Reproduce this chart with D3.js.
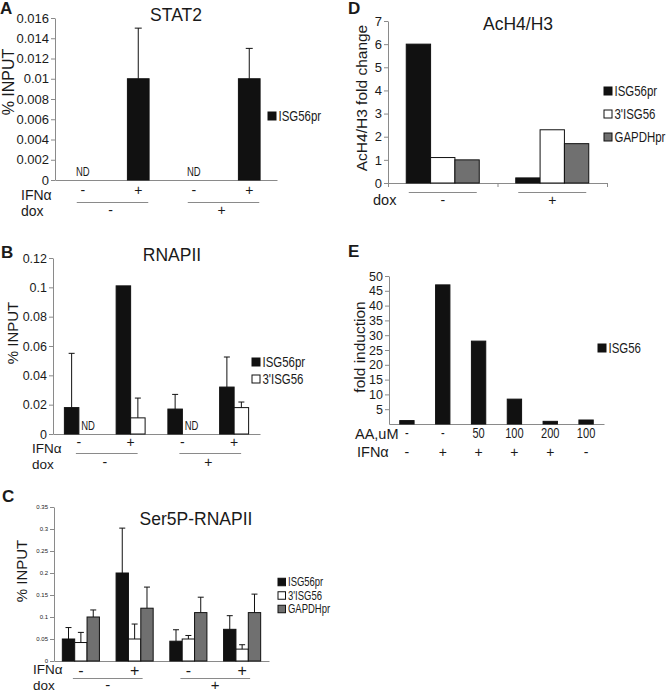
<!DOCTYPE html>
<html><head><meta charset="utf-8">
<script src="https://cdn.jsdelivr.net/npm/d3@7"></script>
<style>
body{margin:0;background:#fff;}
svg text{font-family:"Liberation Sans",Arial,sans-serif;fill:#1a1a1a;}
</style></head><body>
<script>
// ---------------- DATA ----------------
// Panel A: STAT2
const aIFN = ["-", "+", "-", "+"];
const aDox = ["-", "+"];
const aSeriesNames = ["ISG56pr"];
const aISG56pr = [null, 0.010, null, 0.010];
const aISG56prErr = [null, 0.015, null, 0.013];
const aTicks = [0, 0.002, 0.004, 0.006, 0.008, 0.01, 0.012, 0.014, 0.016];
const aTickLabels = ["0", "0.002", "0.004", "0.006", "0.008", "0.01", "0.012", "0.014", "0.016"];

// Panel B: RNAPII
const bIFN = ["-", "+", "-", "+"];
const bDox = ["-", "+"];
const bSeriesNames = ["ISG56pr", "3'ISG56"];
const bISG56pr = [0.018, 0.101, 0.017, 0.032];
const bISG56prErr = [0.055, null, 0.027, 0.0525];
const b3ISG56 = [null, 0.011, null, 0.018];
const b3ISG56Err = [null, 0.0245, null, 0.0218];
const bTicks = [0, 0.02, 0.04, 0.06, 0.08, 0.1, 0.12];
const bTickLabels = ["0", "0.02", "0.04", "0.06", "0.08", "0.1", "0.12"];

// Panel C: Ser5P-RNAPII
const cIFN = ["-", "+", "-", "+"];
const cDox = ["-", "+"];
const cSeriesNames = ["ISG56pr", "3'ISG56", "GAPDHpr"];
const cISG56pr = [0.05, 0.2, 0.045, 0.072];
const cISG56prErr = [0.076, 0.302, 0.071, 0.103];
const c3ISG56 = [0.042, 0.05, 0.05, 0.027];
const c3ISG56Err = [0.065, 0.084, 0.058, 0.037];
const cGAPDHpr = [0.1, 0.12, 0.11, 0.11];
const cGAPDHprErr = [0.116, 0.168, 0.145, 0.152];
const cTicks = [0, 0.05, 0.1, 0.15, 0.2, 0.25, 0.3, 0.35];
const cTickLabels = ["0", "0.05", "0.1", "0.15", "0.2", "0.25", "0.3", "0.35"];

// Panel D: AcH4/H3
const dDox = ["-", "+"];
const dSeriesNames = ["ISG56pr", "3'ISG56", "GAPDHpr"];
const dISG56pr = [6.0, 0.22];
const d3ISG56 = [1.1, 2.3];
const dGAPDHpr = [1.0, 1.7];
const dTicks = [0, 1, 2, 3, 4, 5, 6, 7];
const dTickLabels = ["0", "1", "2", "3", "4", "5", "6", "7"];

// Panel E: fold induction
const eAA = ["-", "-", "50", "100", "200", "100"];
const eIFN = ["-", "+", "+", "+", "+", "-"];
const eSeriesNames = ["ISG56"];
const eISG56 = [1.15, 47, 28, 8.4, 0.9, 1.35];
const eTicks = [5, 10, 15, 20, 25, 30, 35, 40, 45, 50];
const eTickLabels = ["5", "10", "15", "20", "25", "30", "35", "40", "45", "50"];

// ---------------- DRAWING ----------------
const COLORS = {"ISG56pr": "#111111", "ISG56": "#111111", "3'ISG56": "#ffffff", "GAPDHpr": "#707070"};
const AXIS = "#8a8a8a";
const NARROW = 0.79;
const svg = d3.select("body").append("svg").attr("width", 666).attr("height", 693);

function letter(t, x, y) {
  svg.append("text").text(t).attr("x", x).attr("y", y)
    .attr("font-size", 17).attr("font-weight", "bold");
}

// condensed text (Arial-Narrow-like) by horizontal scaling
function narrowText(g, str, x, y, size, anchor, baseline) {
  return g.append("text").text(str)
    .attr("transform", `translate(${x},${y}) scale(${NARROW},1)`)
    .attr("text-anchor", anchor || "start")
    .attr("dominant-baseline", baseline || "central")
    .attr("font-size", size);
}

function drawPanel(p) {
  const g = svg.append("g");
  const y = d3.scaleLinear().domain([0, p.yMax]).range([p.y0, p.yTop]);
  const x = d3.scaleBand().domain(d3.range(p.nCat)).range([p.xl, p.xr]);
  const xs = d3.scaleBand().domain(p.series.map(s => s.name)).range([0, x.bandwidth()])
    .paddingInner(0).paddingOuter(p.pad);

  // y axis
  const ya = d3.axisLeft(y).tickValues(p.ticks).tickFormat((d, i) => p.tickLabels[i])
    .tickSize(4).tickSizeOuter(0).tickPadding(p.tickPad || 2);
  const yg = g.append("g").attr("transform", `translate(${p.xl},0)`).call(ya);
  yg.selectAll("path,line").attr("stroke", AXIS);
  if (p.ticks[0] !== 0) {
    yg.append("line").attr("x1", 0.5).attr("x2", 0.5).attr("y1", y(0)).attr("y2", y(p.ticks[0])).attr("stroke", AXIS);
  }
  yg.selectAll("text").attr("font-size", p.tickFont).attr("fill", "#1a1a1a")
    .attr("font-family", "Liberation Sans, Arial, sans-serif");

  // x axis
  const xa = d3.axisBottom(x).tickValues([]).tickSizeOuter(0);
  const xg = g.append("g").attr("transform", `translate(0,${p.y0})`).call(xa);
  xg.selectAll("path").attr("stroke", AXIS);
  if (p.catTicks) {
    d3.range(p.nCat + 1).forEach(i => {
      const xx = (i < p.nCat ? x(i) : p.xr) + 0.5;
      xg.append("line").attr("x1", xx).attr("x2", xx).attr("y1", 0).attr("y2", 4).attr("stroke", AXIS);
    });
  }

  // bars
  p.series.forEach(s => {
    const data = s.values.map((v, i) => ({v, i, e: s.err ? s.err[i] : null}));
    data.forEach(d => {
      const bx = x(d.i) + xs(s.name);
      const bw = xs.bandwidth();
      if (d.v == null) {
        narrowText(g, "ND", bx + bw / 2 + (p.ndShift || 0), p.y0 - 8, p.ndFont || 12, "middle");
        return;
      }
      g.append("rect").attr("x", bx).attr("y", y(d.v)).attr("width", bw)
        .attr("height", p.y0 - y(d.v)).attr("fill", COLORS[s.name])
        .attr("stroke", "#111").attr("stroke-width", 1);
      if (d.e != null) {
        const cx = bx + bw / 2;
        const cap = p.cap || 3;
        g.append("line").attr("x1", cx).attr("x2", cx).attr("y1", y(d.v)).attr("y2", y(d.e))
          .attr("stroke", "#111").attr("stroke-width", 1);
        g.append("line").attr("x1", cx - cap).attr("x2", cx + cap).attr("y1", y(d.e)).attr("y2", y(d.e))
          .attr("stroke", "#111").attr("stroke-width", 1);
      }
    });
  });

  // title
  if (p.title) {
    g.append("text").text(p.title).attr("x", p.titleX).attr("y", p.titleY)
      .attr("text-anchor", "middle").attr("font-size", 17.5);
  }
  // y label
  g.append("text").text(p.yLabel)
    .attr("transform", `translate(${p.yLabelX},${p.yLabelY}) rotate(-90)`)
    .attr("text-anchor", "middle").attr("dominant-baseline", "central")
    .attr("font-size", p.yLabelFont || 16);

  // legend
  p.series.forEach((s, k) => {
    const ly = p.legY + k * p.legStep;
    g.append("rect").attr("x", p.legX).attr("y", ly - p.legSq / 2).attr("width", p.legSq).attr("height", p.legSq)
      .attr("fill", COLORS[s.name]).attr("stroke", "#111").attr("stroke-width", 1);
    narrowText(g, s.name, p.legX + p.legSq + 2.5, ly, p.legFont, "start");
  });

  // rows below axis
  (p.rows || []).forEach(r => {
    g.append("text").text(r.label).attr("x", r.labelX).attr("y", r.labelY || r.y)
      .attr("dominant-baseline", "central").attr("font-size", r.labelFont || 14.5);
    r.values.forEach((v, i) => {
      const cx = x(i) + x.bandwidth() / 2 + (r.dx || 0);
      if (r.narrow) narrowText(g, v, cx, r.y, r.font || 14, "middle");
      else g.append("text").text(v).attr("x", cx).attr("y", r.y)
        .attr("text-anchor", "middle").attr("dominant-baseline", "central")
        .attr("font-size", r.font || 14);
    });
  });

  // dox grouping
  if (p.dox) {
    g.append("text").text("dox").attr("x", p.dox.labelX).attr("y", p.dox.labelY || p.dox.y)
      .attr("dominant-baseline", "central").attr("font-size", p.dox.labelFont || 14.5);
    p.dox.values.forEach((v, j) => {
      const i0 = j * p.dox.per, i1 = i0 + p.dox.per - 1;
      const c0 = x(i0) + x.bandwidth() / 2, c1 = x(i1) + x.bandwidth() / 2;
      g.append("line").attr("x1", c0 - p.dox.ext[0]).attr("x2", c1 + p.dox.ext[1])
        .attr("y1", p.dox.lineY + 0.5).attr("y2", p.dox.lineY + 0.5).attr("stroke", AXIS).attr("stroke-width", 1);
      const mx = (c0 + c1) / 2 + (p.dox.dx || 0);
      g.append("text").text(v).attr("x", mx).attr("y", p.dox.y)
        .attr("text-anchor", "middle").attr("dominant-baseline", "central")
        .attr("font-size", p.dox.font || 14);
    });
  }
}

// Panel A
letter("A", 0, 14);
drawPanel({
  nCat: 4, xl: 55, xr: 277, y0: 180, yTop: 18, yMax: 0.016,
  ticks: aTicks, tickLabels: aTickLabels, tickFont: 13,
  series: [{name: aSeriesNames[0], values: aISG56pr, err: aISG56prErr}],
  pad: 0.78, cap: 3.5, ndFont: 12,
  title: "STAT2", titleX: 176, titleY: 21,
  yLabel: "% INPUT", yLabelX: 8, yLabelY: 82, yLabelFont: 16,
  legX: 268, legY: 116, legStep: 17, legSq: 8, legFont: 14.5,
  rows: [{label: "IFNα", labelX: 21, y: 190, labelY: 195, labelFont: 14, values: aIFN, font: 14}],
  dox: {labelX: 21, y: 210, labelY: 211, labelFont: 14, lineY: 202, values: aDox, per: 2, ext: [6, 10], font: 14}
});

// Panel B
letter("B", 1, 258);
drawPanel({
  nCat: 4, xl: 53, xr: 260, y0: 434, yTop: 258, yMax: 0.12,
  ticks: bTicks, tickLabels: bTickLabels, tickFont: 12.5,
  series: [{name: bSeriesNames[0], values: bISG56pr, err: bISG56prErr},
           {name: bSeriesNames[1], values: b3ISG56, err: b3ISG56Err}],
  pad: 0.786, cap: 3, ndFont: 12, ndShift: 2,
  title: "RNAPII", titleX: 172, titleY: 261,
  yLabel: "% INPUT", yLabelX: 12, yLabelY: 333, yLabelFont: 15,
  legX: 252, legY: 362, legStep: 17, legSq: 8, legFont: 14.5,
  rows: [{label: "IFNα", labelX: 32, y: 442, labelY: 448, labelFont: 13.5, values: bIFN, font: 14}],
  dox: {labelX: 32, y: 462, labelY: 464, labelFont: 13.5, lineY: 453, values: bDox, per: 2, ext: [3, 7], font: 14}
});

// Panel C
letter("C", 2, 502);
drawPanel({
  nCat: 4, xl: 54, xr: 269, y0: 661, yTop: 507, yMax: 0.35,
  ticks: cTicks, tickLabels: cTickLabels, tickFont: 6, tickPad: 2,
  series: [{name: cSeriesNames[0], values: cISG56pr, err: cISG56prErr},
           {name: cSeriesNames[1], values: c3ISG56, err: c3ISG56Err},
           {name: cSeriesNames[2], values: cGAPDHpr, err: cGAPDHprErr}],
  pad: 0.674, cap: 3,
  title: "Ser5P-RNAPII", titleX: 196, titleY: 525,
  yLabel: "% INPUT", yLabelX: 21, yLabelY: 571, yLabelFont: 15,
  legX: 278, legY: 582, legStep: 13.5, legSq: 7.5, legFont: 12,
  rows: [{label: "IFNα", labelX: 33, y: 670, labelY: 669.5, labelFont: 13.5, values: cIFN, font: 16}],
  dox: {labelX: 33, y: 684, labelY: 685.3, labelFont: 13.5, lineY: 678, values: cDox, per: 2, ext: [8, 8], font: 15}
});

// Panel D
letter("D", 348, 14);
drawPanel({
  nCat: 2, xl: 388, xr: 607, y0: 183, yTop: 21, yMax: 7,
  ticks: dTicks, tickLabels: dTickLabels, tickFont: 13, catTicks: true,
  series: [{name: dSeriesNames[0], values: dISG56pr},
           {name: dSeriesNames[1], values: d3ISG56},
           {name: dSeriesNames[2], values: dGAPDHpr}],
  pad: 0.75,
  title: "AcH4/H3", titleX: 518, titleY: 30,
  yLabel: "AcH4/H3 fold change", yLabelX: 361, yLabelY: 98, yLabelFont: 15.5,
  legX: 604, legY: 91, legStep: 23, legSq: 8, legFont: 14.5,
  rows: [],
  dox: {labelX: 373, y: 200, lineY: 192, values: dDox, per: 1, ext: [34, 34], font: 14}
});

// Panel E
letter("E", 348, 257);
drawPanel({
  nCat: 6, xl: 389, xr: 604, y0: 424, yTop: 276, yMax: 50,
  ticks: eTicks, tickLabels: eTickLabels, tickFont: 12.5,
  series: [{name: eSeriesNames[0], values: eISG56}],
  pad: 0.75,
  yLabel: "fold induction", yLabelX: 359, yLabelY: 347, yLabelFont: 15.5,
  legX: 598, legY: 348, legStep: 17, legSq: 8, legFont: 14.5,
  rows: [{label: "AA,uM", labelX: 355, y: 434, values: eAA, narrow: true, font: 14},
         {label: "IFNα", labelX: 357, y: 452, values: eIFN, font: 14}]
});
</script></body></html>
